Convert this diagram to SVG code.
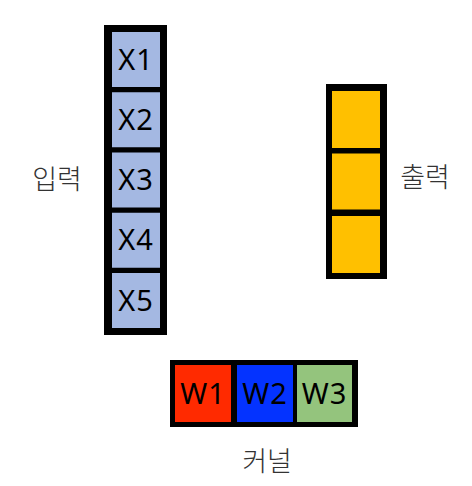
<svg xmlns="http://www.w3.org/2000/svg" width="472" height="486" viewBox="0 0 472 486">
<style>
.frame{fill:#000}
.x{fill:#A4B8E2}
.o{fill:#FFC000}
.lbl{font-family:"Noto Sans","Noto Sans CJK KR",sans-serif;font-size:29px;letter-spacing:1px;fill:#000;text-anchor:middle;dominant-baseline:central}
.kr{font-family:"Noto Sans CJK KR","Noto Sans",sans-serif;font-size:27px;font-weight:300;fill:#333;text-anchor:middle;dominant-baseline:central}
</style>
<rect width="472" height="486" fill="#fff"/>
<g id="input">
<rect class="frame" x="104" y="25" width="63" height="310"/>
<g id="x1"><rect class="x" x="112" y="32" width="48" height="55"/><text class="lbl" x="136" y="58">X1</text></g>
<g id="x2"><rect class="x" x="112" y="92.25" width="48" height="55"/><text class="lbl" x="136" y="118.25">X2</text></g>
<g id="x3"><rect class="x" x="112" y="152.5" width="48" height="55"/><text class="lbl" x="136" y="178.5">X3</text></g>
<g id="x4"><rect class="x" x="112" y="212.75" width="48" height="55"/><text class="lbl" x="136" y="238.75">X4</text></g>
<g id="x5"><rect class="x" x="112" y="273" width="48" height="55"/><text class="lbl" x="136" y="299">X5</text></g>
</g>
<text id="input-label" class="kr" x="57" y="177">입력</text>
<g id="output">
<rect class="frame" x="326" y="84" width="61" height="195"/>
<rect class="o" x="332" y="91" width="48" height="57"/>
<rect class="o" x="332" y="153.5" width="48" height="56"/>
<rect class="o" x="332" y="216" width="48" height="57"/>
</g>
<text id="output-label" class="kr" x="425" y="175">출력</text>
<g id="kernel">
<rect class="frame" x="170" y="360" width="188" height="67"/>
<g id="w1"><rect x="175" y="365" width="56" height="57" fill="#FF2A00"/><text class="lbl" x="203" y="392">W1</text></g>
<g id="w2"><rect x="237" y="365" width="56" height="57" fill="#0433FF"/><text class="lbl" x="265" y="392">W2</text></g>
<g id="w3"><rect x="297" y="365" width="55" height="57" fill="#94C47D"/><text class="lbl" x="324.5" y="392">W3</text></g>
</g>
<text id="kernel-label" class="kr" x="267" y="459">커널</text>
<g id="connectors"></g>
</svg>
